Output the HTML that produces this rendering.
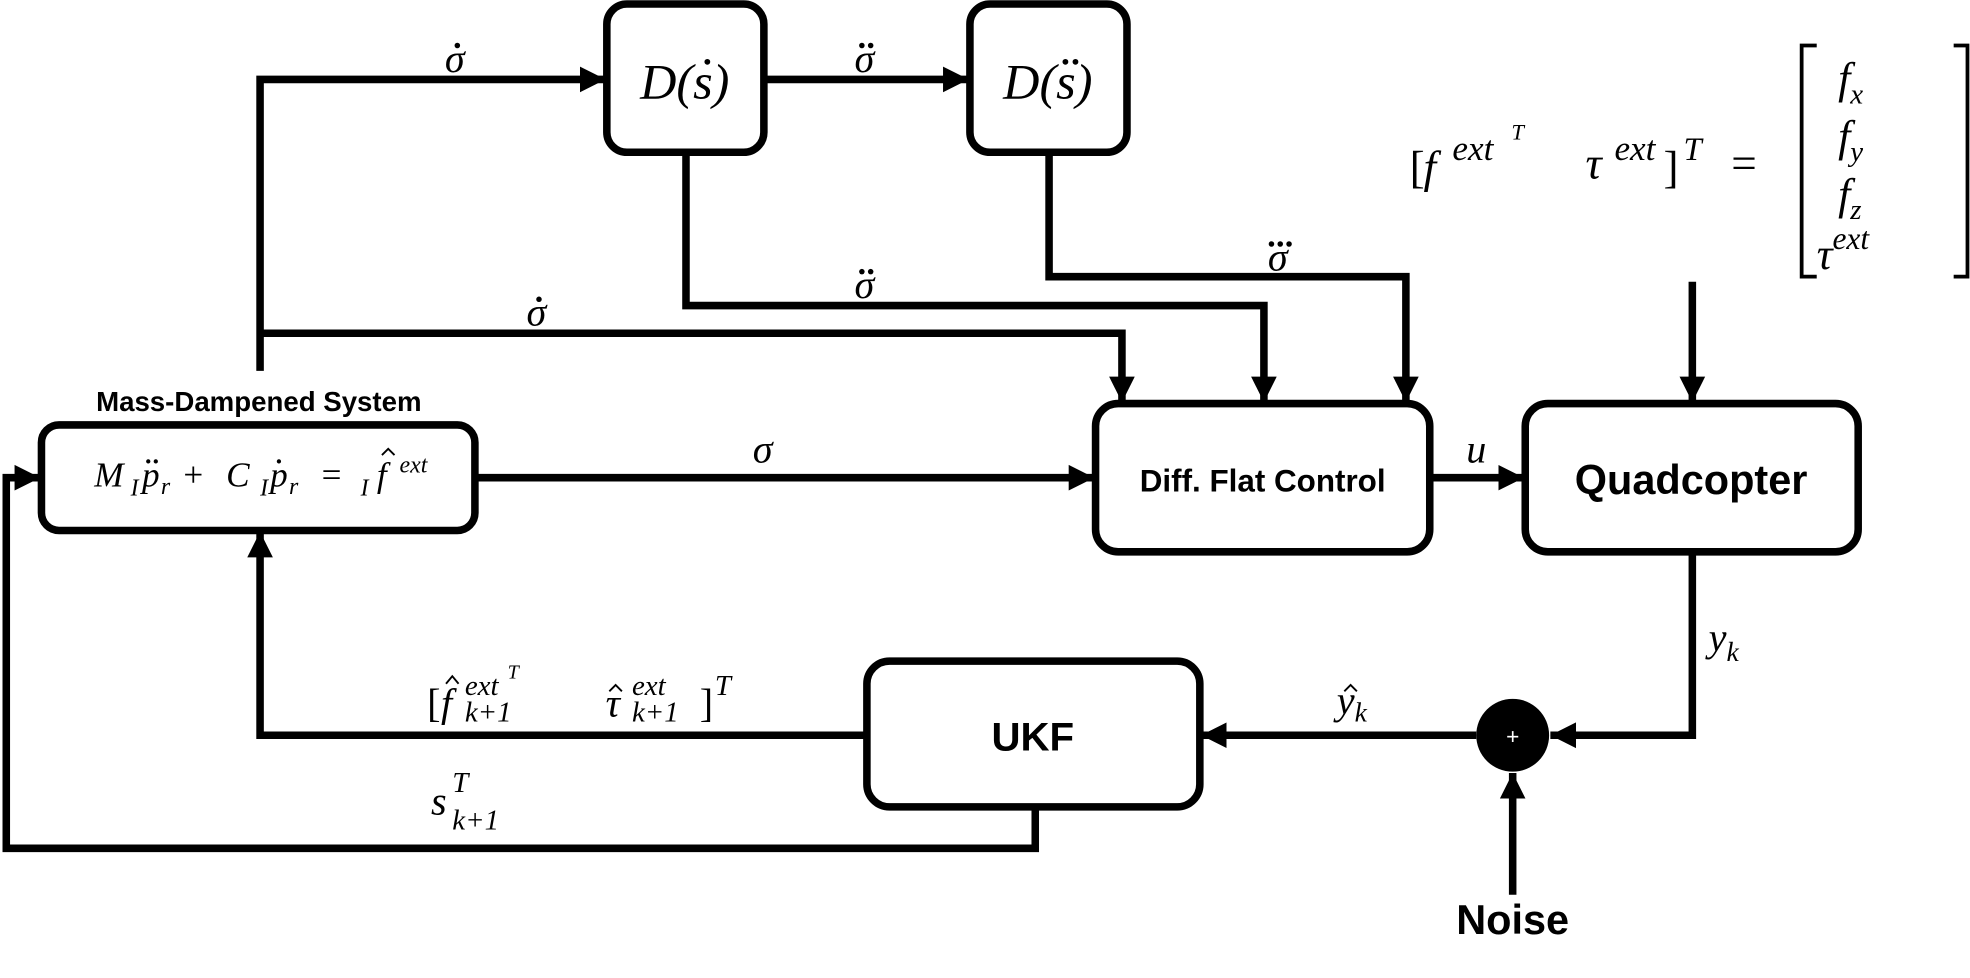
<!DOCTYPE html>
<html><head><meta charset="utf-8"><style>
html,body{margin:0;padding:0;background:#fff;}
svg{display:block;}
.m{font-family:"Liberation Serif",serif;font-style:italic;fill:#000;}
.r{font-family:"Liberation Serif",serif;fill:#000;}
.s{font-family:"Liberation Sans",sans-serif;font-weight:bold;fill:#000;}
</style></head><body>
<svg width="1970" height="978" viewBox="0 0 1568 778" xmlns="http://www.w3.org/2000/svg">
<defs><marker id="a" markerWidth="4" markerHeight="4" refX="3.4" refY="2" orient="auto" markerUnits="strokeWidth"><path d="M0,0.3 L3.4,2 L0,3.7 Z" fill="#000"/></marker></defs>
<g fill="none" stroke="#000" stroke-width="6">
<rect x="483" y="3" width="125" height="118" rx="16"/>
<rect x="772" y="3" width="125" height="118" rx="16"/>
<rect x="33" y="338" width="345" height="84" rx="14"/>
<rect x="872" y="321" width="266" height="118" rx="18"/>
<rect x="1214" y="321" width="265" height="118" rx="18"/>
<rect x="690" y="526" width="265" height="116" rx="18"/>
</g>
<g fill="none" stroke="#000" stroke-width="6" marker-end="url(#a)">
<polyline points="207,295 207,63 482,63"/>
<polyline points="608,63 771,63"/>
<polyline points="207,265 893,265 893,320"/>
<polyline points="546,121 546,243 1006,243 1006,320"/>
<polyline points="835,121 835,220 1119,220 1119,320"/>
<polyline points="378,380 871,380"/>
<polyline points="1138,380 1213,380"/>
<polyline points="1347,224 1347,320"/>
<polyline points="1347,439 1347,585 1234,585"/>
<polyline points="1175,585 956,585"/>
<polyline points="690,585 207,585 207,423"/>
<polyline points="824,642 824,675 5,675 5,380 32,380"/>
<polyline points="1204,712 1204,615"/>
</g>
<circle cx="1204" cy="585" r="29" fill="#000"/>
<text x="1204" y="592" fill="#fff" font-family="Liberation Sans" font-size="18" text-anchor="middle">+</text>
<text class="m" x="545" y="78" font-size="40" text-anchor="middle">D(s)</text>
<circle cx="563" cy="49" r="2.3"/>
<text class="m" x="834" y="78" font-size="40" text-anchor="middle">D(s)</text>
<circle cx="848" cy="49" r="2.3"/><circle cx="856" cy="49" r="2.3"/>
<g font-size="32" class="m" text-anchor="middle">
<text x="362" y="57">σ</text>
<text x="688" y="57">σ</text>
<text x="688" y="237">σ</text>
<text x="1017" y="215">σ</text>
<text x="427" y="259">σ</text>
<text x="607" y="368">σ</text>
<text x="1175" y="368">u</text>
</g>
<circle cx="364" cy="36" r="2.2"/>
<circle cx="686" cy="36" r="2.2"/><circle cx="693" cy="36" r="2.2"/>
<circle cx="686" cy="216" r="2.2"/><circle cx="693" cy="216" r="2.2"/>
<circle cx="1012" cy="194" r="2.2"/><circle cx="1019" cy="194" r="2.2"/><circle cx="1026" cy="194" r="2.2"/>
<circle cx="429" cy="238" r="2.2"/>
<text class="m" x="1360" y="518" font-size="32">y<tspan font-size="22" dy="8">k</tspan></text>
<text class="m" x="1064" y="568" font-size="32">y<tspan font-size="22" dy="6">k</tspan></text>
<g fill="none" stroke="#000" stroke-width="1.5">
<polyline points="1070,550 1075,545 1080,550"/>
<polyline points="355,544 360,538 365,544"/>
<polyline points="485,550 490,545 495,550"/>
<polyline points="304,362 309,357 314,362"/>
</g>
<text class="s" x="206" y="327" font-size="22" text-anchor="middle">Mass-Dampened System</text>
<g class="m" font-size="28">
<text x="75" y="387">M</text>
<text x="104" y="394" font-size="19">I</text>
<text x="113" y="387">p</text>
<text x="128" y="393" font-size="19">r</text>
<text class="r" x="146" y="387" font-style="normal">+</text>
<text x="180" y="387">C</text>
<text x="207" y="394" font-size="19">I</text>
<text x="215" y="387">p</text>
<text x="230" y="393" font-size="19">r</text>
<text class="r" x="256" y="387" font-style="normal">=</text>
<text x="287" y="394" font-size="19">I</text>
<text x="300" y="387">f</text>
<text x="318" y="376" font-size="19">ext</text>
</g>
<circle cx="118" cy="367" r="1.7"/><circle cx="124" cy="367" r="1.7"/>
<circle cx="222" cy="367" r="1.7"/>
<text class="s" x="1005" y="391" font-size="25" text-anchor="middle">Diff. Flat Control</text>
<text class="s" x="1346" y="393" font-size="33" text-anchor="middle">Quadcopter</text>
<text class="s" x="822" y="597" font-size="32" text-anchor="middle">UKF</text>
<text class="s" x="1204" y="743" font-size="33" text-anchor="middle">Noise</text>
<text class="r" x="340" y="570" font-size="32">[</text>
<text class="m" x="351" y="570" font-size="32">f</text>
<text class="m" x="370" y="553" font-size="23">ext</text>
<text class="m" x="404" y="540" font-size="16">T</text>
<text class="m" x="370" y="574" font-size="23">k+1</text>
<text class="m" x="482" y="570" font-size="32">τ</text>
<text class="m" x="503" y="553" font-size="23">ext</text>
<text class="m" x="503" y="574" font-size="23">k+1</text>
<text class="r" x="557" y="570" font-size="32">]</text>
<text class="m" x="569" y="553" font-size="23">T</text>
<text class="m" x="343" y="648" font-size="32">s</text>
<text class="m" x="360" y="630" font-size="23">T</text>
<text class="m" x="360" y="660" font-size="23">k+1</text>
<text class="r" x="1122" y="145" font-size="36">[</text>
<text class="m" x="1133" y="145" font-size="36">f</text>
<text class="m" x="1156" y="127" font-size="28">ext</text>
<text class="m" x="1203" y="111" font-size="18">T</text>
<text class="m" x="1262" y="142" font-size="36">τ</text>
<text class="m" x="1285" y="127" font-size="28">ext</text>
<text class="r" x="1324" y="145" font-size="36">]</text>
<text class="m" x="1340" y="127" font-size="26">T</text>
<text class="r" x="1378" y="142" font-size="36">=</text>
<path d="M1446,36 H1434 V220 H1446 M1555,36 H1566 V220 H1555" fill="none" stroke="#000" stroke-width="3"/>
<text class="m" x="1463" y="74" font-size="35">f<tspan font-size="23" dy="8">x</tspan></text>
<text class="m" x="1463" y="120" font-size="35">f<tspan font-size="23" dy="8">y</tspan></text>
<text class="m" x="1463" y="166" font-size="35">f<tspan font-size="23" dy="8">z</tspan></text>
<text class="m" x="1446" y="214" font-size="35">τ<tspan font-size="25" dy="-16">ext</tspan></text>
</svg>
</body></html>
